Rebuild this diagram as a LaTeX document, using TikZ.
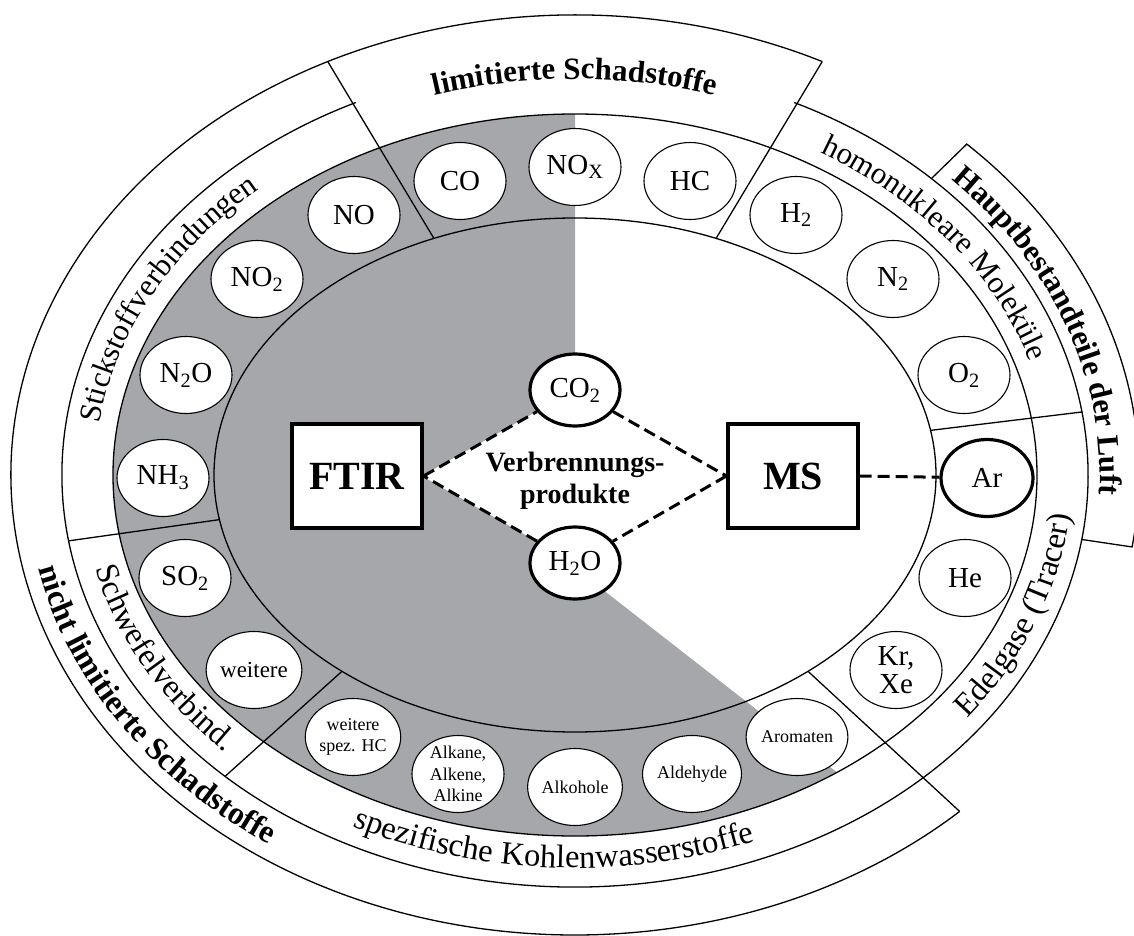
\documentclass[tikz,border=0pt]{standalone}
\usepackage{fontspec}
\setmainfont{Liberation Serif}
\usetikzlibrary{shapes.geometric,decorations.text}
\definecolor{ringgray}{RGB}{166,167,171}
\newcommand\lblfont{\fontsize{31}{31}\selectfont}
\newcommand\lblfontb{\fontsize{32.5}{32.5}\selectfont}
\newcommand\lblbold{\fontsize{31}{31}\selectfont\bfseries}
\newcommand\lblboldb{\fontsize{32}{32}\selectfont\bfseries}
\newcommand\molfont{\fontsize{29}{30}\selectfont}
\newcommand\smallmolfont{\fontsize{18}{21.5}\selectfont}
\begin{document}
\begin{tikzpicture}[x=1pt,y=1pt,
  ringline/.style={line width=1.3},
  mol/.style={draw, ellipse, fill=white, line width=1.1, minimum width=92, minimum height=77, inner sep=0pt, align=center, font=\molfont},
  smallmol/.style={mol, inner ysep=-4pt, font=\smallmolfont},
  keymol/.style={mol, line width=3.2, minimum width=90, minimum height=72},
  instr/.style={draw, fill=white, line width=3.2, minimum width=130, minimum height=104, font=\fontsize{40}{40}\selectfont\bfseries},
  dashline/.style={line width=3, dash pattern=on 12pt off 6pt}
]
\useasboundingbox (-575,-460) rectangle (559,475);

% grey sector
\begin{scope}
  \clip (0,0) ellipse [x radius=462, y radius=361];
  \fill[ringgray] (0,520) -- (0,-93) -- (600,-561) -- (-700,-561) -- (-700,520) -- cycle;
\end{scope}
% white diamond area
\fill[white] (-153,-1) -- (0,85) -- (153,-1) -- (0,-88) -- cycle;

% rings
\draw[ringline] (0,0) ellipse [x radius=361, y radius=257];
\draw[ringline] (0,0) ellipse [x radius=462, y radius=361];
\draw[ringline] (64.7:513 and 412) arc[start angle=64.7, end angle=-244.7, x radius=513, y radius=412];
\draw[ringline] (64:564 and 460) arc[start angle=64, end angle=313, x radius=564, y radius=460];
\draw[ringline] (46:513 and 412) -- (46:564 and 460) arc[start angle=46, end angle=-9, x radius=564, y radius=460] -- (-9:513 and 412);
% separators
\draw[ringline] (113:361 and 257) -- (116:564 and 460);
\draw[ringline] (67:361 and 257) -- (64:564 and 460);
\draw[ringline] (10:361 and 257) -- (8.8:513 and 412);
\draw[ringline] (190:361 and 257) -- (189.2:513 and 412);
\draw[ringline] (-49.8:361 and 257) -- (-47:564 and 460);
\draw[ringline] (229.8:361 and 257) -- (227:513 and 412);

% ring labels
\path[decorate, decoration={text along path, text align=center, text={|\lblbold|limitierte Schadstoffe}}]
  (140:498 and 396) arc[start angle=140, end angle=40, x radius=498, y radius=396];
\path[decorate, decoration={text along path, text align=center, text={|\lblfont|Stickstoffverbindungen}}]
  (201:480 and 379) arc[start angle=201, end angle=107, x radius=480, y radius=379];
\path[decorate, decoration={text along path, text align=center, text={|\lblfont|homonukleare Moleküle}}]
  (83:477 and 376) arc[start angle=83, end angle=-12, x radius=477, y radius=376];
\path[decorate, decoration={text along path, text align=center, text={|\lblbold|Hauptbestandteile der Luft}}]
  (70:525 and 424) arc[start angle=70, end angle=-32, x radius=525, y radius=424];
\path[decorate, decoration={text along path, text align=center, text={|\lblfontb|Edelgase (Tracer)}}]
  (-70:497 and 396) arc[start angle=-70, end angle=31, x radius=497, y radius=396];
\path[decorate, decoration={text along path, text align=center, text={|\lblfontb|spezifische Kohlenwasserstoffe}}]
  (-150:494 and 393) arc[start angle=-150, end angle=-36, x radius=494, y radius=393];
\path[decorate, decoration={text along path, text align=center, text={|\lblfontb|Schwefelverbind.}}]
  (157:494 and 393) arc[start angle=157, end angle=256, x radius=494, y radius=393];
\path[decorate, decoration={text along path, text align=center, text={|\lblboldb|nicht limitierte Schadstoffe}}]
  (146:549 and 445) arc[start angle=146, end angle=275, x radius=549, y radius=445];

% molecules
\node[mol] (nox) at (0,308) {NO\textsubscript{X}};
\node[mol] (co) at (-115,294) {CO};
\node[mol] (hc) at (115,294) {HC};
\node[mol] (no) at (-221,260) {NO};
\node[mol] (h2) at (221,260) {H\textsubscript{2}};
\node[mol] (no2) at (-318,196) {NO\textsubscript{2}};
\node[mol] (n2) at (318,196) {N\textsubscript{2}};
\node[mol] (n2o) at (-389,100) {N\textsubscript{2}O};
\node[mol] (o2) at (389,100) {O\textsubscript{2}};
\node[mol] (nh3) at (-412,-3) {NH\textsubscript{3}};
\node[keymol, minimum width=92, minimum height=77] (ar) at (412,-3) {Ar};
\node[mol] (so2) at (-390,-103) {SO\textsubscript{2}};
\node[mol] (he) at (390,-103) {He};
\node[mol, font=\fontsize{23}{25}\selectfont] (weitere) at (-321,-195) {weitere};
\node[mol] (krxe) at (321,-195) {Kr,\\[-2pt]Xe};
\node[smallmol] (spezhc) at (-222,-262) {weitere\\spez. HC};
\node[smallmol] (aromaten) at (222,-262) {Aromaten};
\node[smallmol] (alkane) at (-117,-299) {Alkane,\\Alkene,\\Alkine};
\node[smallmol] (aldehyde) at (117,-299) {Aldehyde};
\node[smallmol] (alkohole) at (0,-312) {Alkohole};

% centre
\node[keymol] (co2) at (0,85) {CO\textsubscript{2}};
\node[keymol] (h2o) at (0,-88) {H\textsubscript{2}O};
\node[instr] (ftir) at (-218,-1) {FTIR};
\node[instr] (ms) at (218,-1) {MS};
\node[font=\fontsize{28}{32}\selectfont\bfseries, align=center] (vp) at (0,-6) {Verbrennungs-\\produkte};

\draw[dashline] (ftir.east) -- (co2);
\draw[dashline] (co2) -- (ms.west);
\draw[dashline] (ms.west) -- (h2o);
\draw[dashline] (h2o) -- (ftir.east);
\draw[dashline] (ms.east) -- (ar);
\end{tikzpicture}
\end{document}
